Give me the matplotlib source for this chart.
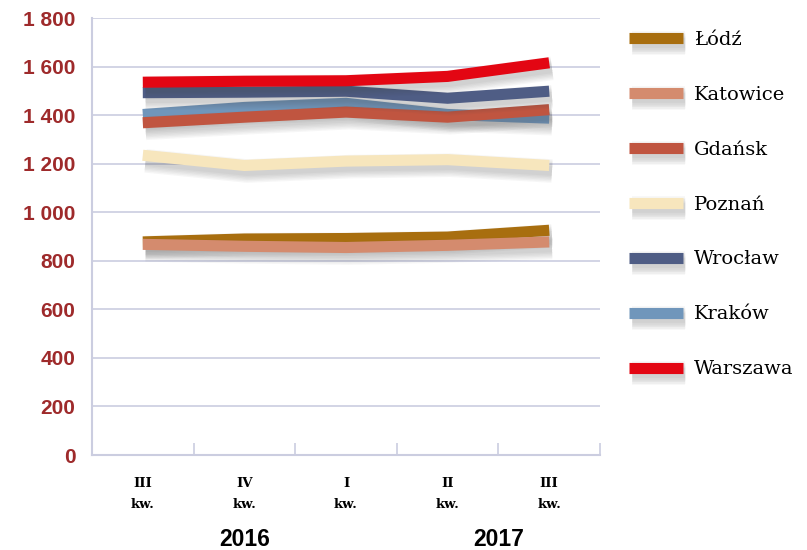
import matplotlib
matplotlib.use("Agg")
import matplotlib.pyplot as plt
import matplotlib.patheffects as pe
from matplotlib.lines import Line2D

# kwartały i wartości dla miast
quarters = ["III\nkw.", "IV\nkw.", "I\nkw.", "II\nkw.", "III\nkw."]
years = ["2016", "2017"]
lodz = [878, 890, 892, 898, 926]
katowice = [868, 860, 855, 864, 878]
gdansk = [1369, 1392, 1413, 1392, 1423]
poznan = [1235, 1193, 1211, 1217, 1193]
wroclaw = [1493, 1495, 1499, 1470, 1499]
krakow = [1403, 1432, 1449, 1403, 1388]
warszawa = [1536, 1540, 1542, 1560, 1616]

names = ["Łódź", "Katowice", "Gdańsk", "Poznań", "Wrocław", "Kraków", "Warszawa"]
series = [lodz, katowice, gdansk, poznan, wroclaw, krakow, warszawa]
colors = ["#a86e0f", "#d48b6e", "#c05540", "#f7e6bd", "#4f5d85", "#7096bb", "#e30613"]
# kolejność rysowania (co na wierzchu)
zorders = [3, 4, 6, 3, 7, 5, 8]

red = "#9e2a2b"
grid_c = "#cbcde0"

# miękki cień pod liniami - kilka warstw o malejącej szerokości
shadow = [pe.SimpleLineShadow(offset=(2, -4), shadow_color="#444444", alpha=0.045, linewidth=w)
          for w in (17, 15, 13, 11, 9, 7)]
shadow.append(pe.Normal())

fig = plt.figure(figsize=(8.07, 5.5), dpi=100)
ax = fig.add_axes([0.114, 0.1727, 0.6295, 0.7943])

x = [i + 0.5 for i in range(len(quarters))]
for name, vals, c, z in zip(names, series, colors, zorders):
    ax.plot(x, vals, color=c, lw=8, solid_capstyle="butt", solid_joinstyle="miter",
            zorder=z, path_effects=shadow, label=name)

ax.set_xlim(0, 5)
ax.set_ylim(0, 1800)
ax.set_yticks(range(0, 1801, 200))
ax.set_yticklabels([f"{v:,}".replace(",", " ") for v in range(0, 1801, 200)],
                   fontfamily="Liberation Sans", fontweight="bold", fontsize=15, color=red)
ax.tick_params(axis="y", length=0, pad=12)

ax.set_xticks(x)
ax.set_xticklabels(quarters, fontfamily="DejaVu Serif", fontweight="bold", fontsize=9.5,
                   linespacing=1.75)
ax.tick_params(axis="x", which="major", length=0, pad=16)
ax.set_xticks([1, 2, 3, 4, 5], minor=True)
ax.tick_params(axis="x", which="minor", direction="in", length=9, width=1.2, color=grid_c)

ax.grid(axis="y", color=grid_c, lw=1.2, zorder=0)
ax.set_axisbelow(True)
for s in ["top", "right"]:
    ax.spines[s].set_visible(False)
for s in ["left", "bottom"]:
    ax.spines[s].set_color(grid_c)
    ax.spines[s].set_linewidth(1.5)

# lata pod osią
for xi, yr in zip([1.5, 4.0], years):
    ax.text(xi, -0.193, yr, transform=ax.get_xaxis_transform(), ha="center", va="center",
            fontfamily="Liberation Sans", fontweight="bold", fontsize=16.5)

# legenda
handles = [Line2D([0], [0], color=c, lw=8, solid_capstyle="butt", path_effects=shadow)
           for c in colors]
fig.legend(handles, names, loc="upper left", bbox_to_anchor=(0.758, 0.976),
           frameon=False, handlelength=2.75, handletextpad=0.6, labelspacing=1.9,
           prop={"family": "DejaVu Serif", "size": 14})

fig.savefig("out.png", dpi=100)
